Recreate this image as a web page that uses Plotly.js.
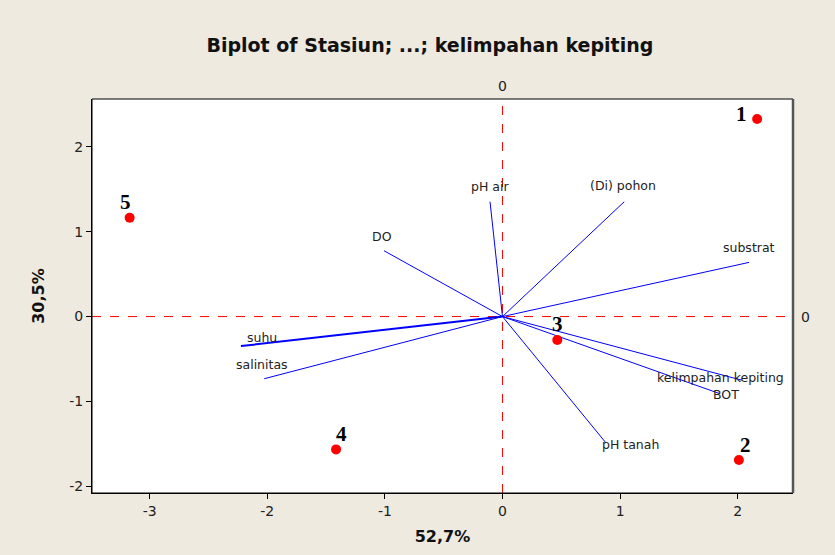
<!DOCTYPE html>
<html>
<head>
<meta charset="utf-8">
<script src="https://cdn.plot.ly/plotly-3.0.1.min.js"></script>
<style>html,body{margin:0;padding:0;background:#EEEAE0;}#chart{width:835px;height:555px;}</style>
</head>
<body>
<div id="chart"></div>
<script>
// Observations (stations)
const stationLabels = ["1", "2", "3", "4", "5"];
const stationX = [2.165, 2.01, 0.466, -1.415, -3.17];
const stationY = [2.33, -1.69, -0.277, -1.566, 1.165];

// Variable loading vectors
const varNames = ["pH air", "(Di) pohon", "substrat", "DO", "suhu", "salinitas", "kelimpahan kepiting", "BOT", "pH tanah"];
const varX = [-0.106, 1.035, 2.097, -1.007, -2.224, -2.026, 2.035, 1.85, 0.879];
const varY = [1.354, 1.354, 0.639, 0.776, -0.348, -0.733, -0.75, -0.91, -1.488];

// Axis ticks and titles
const xTicks = [-3, -2, -1, 0, 1, 2];
const yTicks = [-2, -1, 0, 1, 2];
const titleText = "Biplot of Stasiun; ...; kelimpahan kepiting";
const xTitle = "52,7%";
const yTitle = "30,5%";

// label placement offsets (pixels) — styling only
const varLabelShift = {
  "pH air": [0, 15], "(Di) pohon": [-1, 16], "substrat": [0, 15], "DO": [-2, 14],
  "suhu": [21, 9], "salinitas": [-2, 14], "kelimpahan kepiting": [-21, 3],
  "BOT": [6, -1], "pH tanah": [25, -2]
};
const stationLabelShift = {"1": [-16, 5], "2": [7, 15], "3": [0, 16], "4": [5, 15], "5": [-4, 16]};

const traces = [];
varNames.forEach((n, i) => {
  traces.push({
    x: [0, varX[i]], y: [0, varY[i]], mode: "lines", type: "scatter",
    line: {color: "#0000FF", width: n === "suhu" ? 2 : 1},
    hoverinfo: "skip", showlegend: false
  });
});
traces.push({
  x: stationX, y: stationY, mode: "markers", type: "scatter",
  marker: {color: "#FF0000", size: 10, symbol: "circle"},
  showlegend: false
});

const annotations = [];
varNames.forEach((n, i) => {
  const s = varLabelShift[n];
  annotations.push({
    x: varX[i], y: varY[i], xref: "x", yref: "y", text: n, showarrow: false,
    xshift: s[0], yshift: s[1], font: {family: "DejaVu Sans", size: 12.5, color: "#222"}
  });
});
stationLabels.forEach((n, i) => {
  const s = stationLabelShift[n];
  annotations.push({
    x: stationX[i], y: stationY[i], xref: "x", yref: "y", text: "<b>" + n + "</b>", showarrow: false,
    xshift: s[0], yshift: s[1], font: {family: "Liberation Serif", size: 21, color: "#000"}
  });
});
// reference line labels
annotations.push({x: 0, y: 1, xref: "x", yref: "paper", yanchor: "bottom", yshift: 3, text: "0", showarrow: false,
  font: {family: "DejaVu Sans", size: 14, color: "#222"}});
annotations.push({x: 1, y: 0, xref: "paper", yref: "y", xanchor: "left", xshift: 6, text: "0", showarrow: false,
  font: {family: "DejaVu Sans", size: 14, color: "#222"}});

const layout = {
  width: 835, height: 555,
  paper_bgcolor: "#EEEAE0", plot_bgcolor: "#FFFFFF",
  margin: {l: 92, r: 42, t: 99, b: 62},
  title: {text: "<b>" + titleText + "</b>", x: 0.482, xref: "paper", y: 0.918, yanchor: "middle",
    font: {family: "DejaVu Sans", size: 19, color: "#111"}},
  xaxis: {
    range: [-3.49, 2.47], tickvals: xTicks, ticktext: xTicks.map(String),
    showgrid: false, zeroline: false, ticks: "outside", ticklen: 5, tickcolor: "#000",
    showline: true, linecolor: "#000", linewidth: 1, mirror: false,
    tickfont: {family: "DejaVu Sans", size: 14, color: "#222"},
    title: {text: "<b>" + xTitle + "</b>", standoff: 13, font: {family: "DejaVu Sans", size: 16, color: "#111"}}
  },
  yaxis: {
    range: [-2.08, 2.565], tickvals: yTicks, ticktext: yTicks.map(String),
    showgrid: false, zeroline: false, ticks: "outside", ticklen: 5, tickcolor: "#000",
    showline: true, linecolor: "#000", linewidth: 1, mirror: false,
    tickfont: {family: "DejaVu Sans", size: 14, color: "#222"},
    title: {text: "<b>" + yTitle + "</b>", standoff: 20, font: {family: "DejaVu Sans", size: 16, color: "#111"}}
  },
  shapes: [
    {type: "line", xref: "x", yref: "paper", x0: 0, x1: 0, y0: 0, y1: 1, line: {color: "#FF0000", width: 1, dash: "dash"}, layer: "below"},
    {type: "line", xref: "paper", yref: "y", x0: 0, x1: 1, y0: 0, y1: 0, line: {color: "#FF0000", width: 1, dash: "dash"}, layer: "below"},
    {type: "rect", xref: "paper", yref: "paper", x0: 0, x1: 1, y0: 0, y1: 1, line: {color: "#000", width: 1}},
    {type: "line", xref: "paper", yref: "paper", x0: 1, x1: 1, y0: 0, y1: 1, line: {color: "#555", width: 2.5}}
  ],
  annotations: annotations
};

Plotly.newPlot("chart", traces, layout, {displayModeBar: false, staticPlot: true});
</script>
</body>
</html>
